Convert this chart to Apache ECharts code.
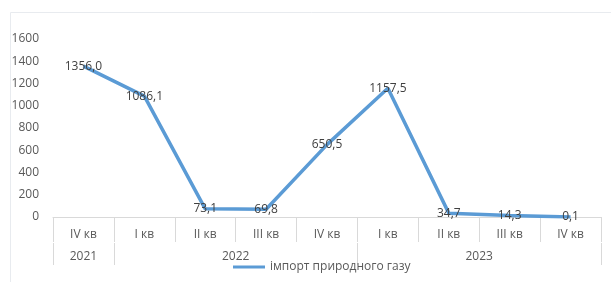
<!DOCTYPE html>
<html>
<head>
<meta charset="utf-8">
<script src="https://cdn.jsdelivr.net/npm/echarts@6/dist/echarts.min.js"></script>
<style>
  html, body { margin: 0; padding: 0; background: #fff; }
  #chart { width: 611px; height: 282px; }
</style>
</head>
<body>
<div id="chart"></div>
<script>
// квартали та роки
const quarters = ['IV кв', 'I кв', 'II кв', 'III кв', 'IV кв', 'I кв', 'II кв', 'III кв', 'IV кв'];
const years = ['2021', '2022', '2023'];
// центри підписів років і межі груп (у частках категорій)
const yearCenters = [0.5, 3, 7];
const yearBounds = [0, 1, 5, 9];
const seriesName = 'імпорт природного газу';
const gasImport = [1356.0, 1086.1, 73.1, 69.8, 650.5, 1157.5, 34.7, 14.3, 0.1];
const yTicks = [0, 1600, 200]; // min, max, interval

const textColor = '#595959';
const lineColor = '#5b9bd5';
const sepColor = '#d9d9d9';

const chart = echarts.init(document.getElementById('chart'));

const option = {
  animation: false,
  textStyle: { fontFamily: 'Open Sans' },
  graphic: [
    {
      type: 'rect',
      shape: { x: 10.5, y: 12.5, width: 700, height: 400 },
      style: { fill: 'none', stroke: '#e8ebef', lineWidth: 1 },
      silent: true
    }
  ],
  grid: { left: 53, right: 10, top: 39, bottom: 65 },
  legend: {
    data: [seriesName],
    bottom: 4,
    left: 228,
    itemWidth: 32,
    itemHeight: 10,
    itemGap: 4,
    icon: 'path://M0,4 L32,4 L32,7 L0,7 Z',
    textStyle: { color: textColor, fontSize: 12, fontFamily: 'Open Sans' }
  },
  xAxis: [
    {
      type: 'category',
      data: quarters,
      position: 'bottom',
      boundaryGap: true,
      axisLine: { lineStyle: { color: sepColor } },
      axisTick: { show: true, interval: 0, length: 25, lineStyle: { color: sepColor } },
      axisLabel: { interval: 0, color: textColor, fontSize: 12, margin: 12 }
    },
    {
      type: 'value',
      min: 0,
      max: quarters.length,
      position: 'bottom',
      offset: 26,
      splitLine: { show: false },
      axisLine: { show: false },
      axisTick: { show: true, customValues: yearBounds, length: 22, lineStyle: { color: sepColor } },
      axisLabel: {
        customValues: yearCenters,
        color: textColor,
        fontSize: 12,
        margin: 8,
        formatter: function (v) {
          return years[yearCenters.indexOf(v)];
        }
      }
    }
  ],
  yAxis: {
    type: 'value',
    min: yTicks[0],
    max: yTicks[1],
    interval: yTicks[2],
    splitLine: { show: false },
    axisLine: { show: false },
    axisTick: { show: false },
    axisLabel: {
      color: textColor,
      fontSize: 12,
      margin: 14,
      formatter: function (v) { return String(v); }
    }
  },
  series: [
    {
      name: seriesName,
      type: 'line',
      xAxisIndex: 0,
      data: gasImport,
      symbol: 'circle',
      symbolSize: 0,
      showSymbol: true,
      lineStyle: { color: lineColor, width: 3.5 },
      itemStyle: { color: lineColor },
      label: {
        show: true,
        position: 'inside',
        color: '#404040',
        fontSize: 12,
        formatter: function (p) {
          return p.value.toFixed(1).replace('.', ',');
        }
      }
    }
  ]
};

chart.setOption(option);
</script>
</body>
</html>
